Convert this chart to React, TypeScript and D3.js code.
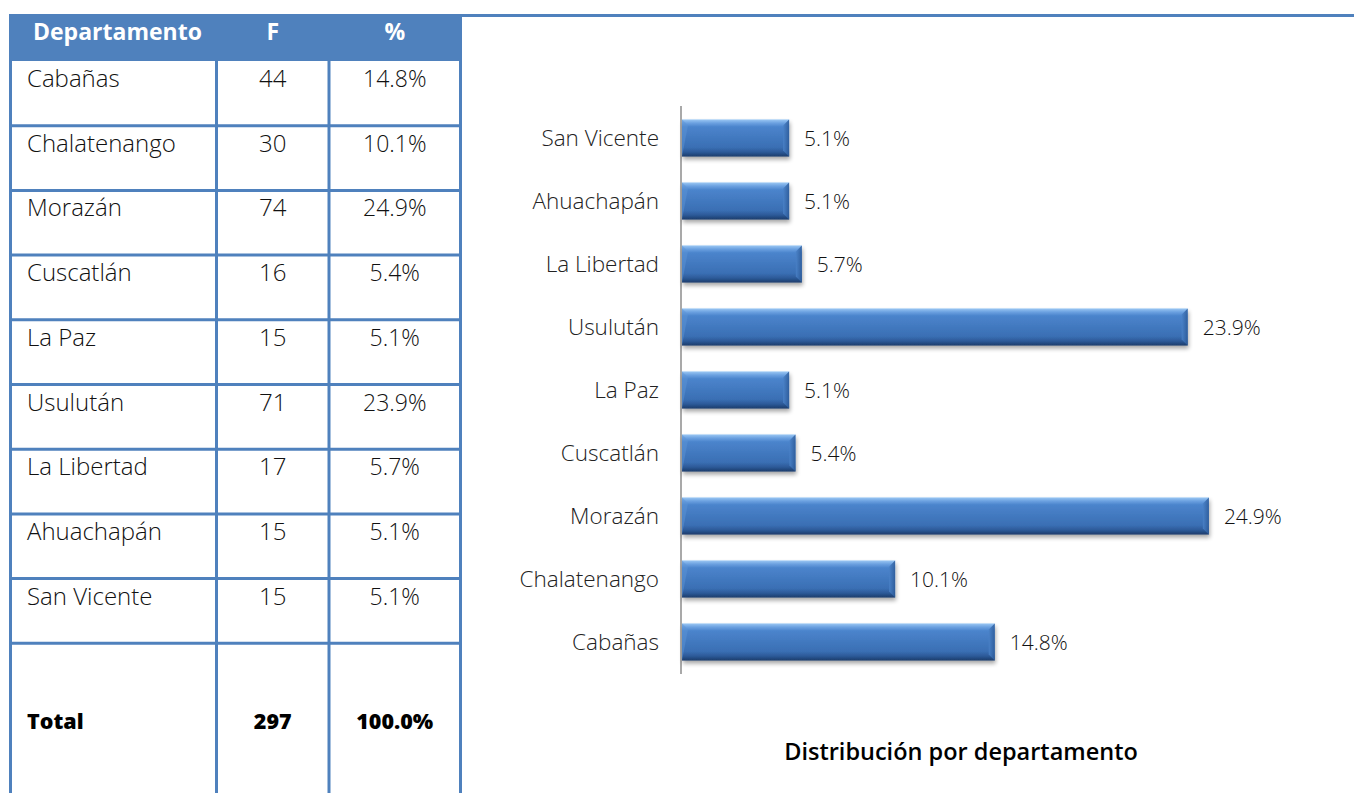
import React from "react";
import * as d3 from "d3";

const departamentos = [
	"Cabañas",
	"Chalatenango",
	"Morazán",
	"Cuscatlán",
	"La Paz",
	"Usulután",
	"La Libertad",
	"Ahuachapán",
	"San Vicente",
];
const frecuencias = [44, 30, 74, 16, 15, 71, 17, 15, 15];
const porcentajes = [14.8, 10.1, 24.9, 5.4, 5.1, 23.9, 5.7, 5.1, 5.1];
const encabezados = ["Departamento", "F", "%"];
const totalFila = ["Total", "297", "100.0%"];
const tituloGrafico = "Distribución por departamento";

const W = 1354;
const H = 793;
const BLUE = "#4f81bd";
const FONT = "'Open Sans', 'Noto Sans', sans-serif";

const fmt = (v: number) => `${v.toFixed(1)}%`;

export default function App() {
	// table geometry
	const colX = [10.5, 216.5, 329, 460.5];
	const headTop = 14;
	const headBottom = 61;
	const rowH = 64.7;
	const rowTops = departamentos.map((_, i) => headBottom + i * rowH);
	const totalTop = headBottom + departamentos.length * rowH;

	// chart scales
	const x = d3.scaleLinear().domain([0, 30]).range([681, 1317]);
	const y = d3
		.scaleBand<string>()
		.domain([...departamentos].reverse())
		.range([106.5, 673.5])
		.paddingInner(0.41)
		.paddingOuter(0.205);
	const bh = y.bandwidth();
	const bev = 6;

	const colCenter = (c: number) => (colX[c] + colX[c + 1]) / 2;

	return (
		<svg
			width={W}
			height={H}
			style={{ position: "absolute", left: 0, top: 0, background: "#fff" }}
		>
			<defs>
				<linearGradient id="barGrad" x1="0" y1="0" x2="0" y2="1">
					<stop offset="0" stopColor="#9cc8f4" />
					<stop offset="0.1" stopColor="#6aa0e0" />
					<stop offset="0.2" stopColor="#4b84cc" />
					<stop offset="0.75" stopColor="#3a6fb4" />
					<stop offset="0.88" stopColor="#2c5a98" />
					<stop offset="1" stopColor="#1c3c6a" />
				</linearGradient>
				<linearGradient id="endGrad" x1="0" y1="0" x2="1" y2="0">
					<stop offset="0" stopColor="#4a82c8" />
					<stop offset="1" stopColor="#2c5a98" />
				</linearGradient>
				<filter id="shadow" x="-5%" y="-20%" width="110%" height="160%">
					<feGaussianBlur in="SourceAlpha" stdDeviation="2" />
					<feOffset dx="1" dy="3" result="b" />
					<feComponentTransfer>
						<feFuncA type="linear" slope="0.35" />
					</feComponentTransfer>
					<feMerge>
						<feMergeNode />
						<feMergeNode in="SourceGraphic" />
					</feMerge>
				</filter>
			</defs>

			{/* top rule */}
			<line x1={9} x2={W} y1={15.5} y2={15.5} stroke={BLUE} strokeWidth={3} />

			{/* table header */}
			<rect x={9} y={headTop} width={colX[3] - 9 + 1.5} height={headBottom - headTop} fill={BLUE} />
			{encabezados.map((h, c) => (
				<text
					key={h}
					x={c === 0 ? 33 : colCenter(c)}
					y={40}
					textAnchor={c === 0 ? "start" : "middle"}
					fill="#fff"
					fontFamily={FONT}
					fontWeight={700}
					fontSize={23}
				>
					{h}
				</text>
			))}

			{/* table rows */}
			{departamentos.map((d, i) => (
				<g key={d} fontFamily={FONT} fontWeight={300} fill="#111">
					<text x={27} y={rowTops[i] + 26} fontSize={24}>
						{d}
					</text>
					<text x={colCenter(1)} y={rowTops[i] + 26} textAnchor="middle" fontSize={24}>
						{frecuencias[i]}
					</text>
					<text x={colCenter(2)} y={rowTops[i] + 26} textAnchor="middle" fontSize={23}>
						{fmt(porcentajes[i])}
					</text>
				</g>
			))}

			{/* total row */}
			{totalFila.map((t, c) => (
				<text
					key={t}
					x={c === 0 ? 27 : colCenter(c)}
					y={729}
					textAnchor={c === 0 ? "start" : "middle"}
					fontFamily={FONT}
					fontWeight={800}
					fontSize={21.5}
					fill="#000"
				>
					{t}
				</text>
			))}

			{/* table grid */}
			{rowTops.slice(1).concat([totalTop]).map((yy, i) => (
				<line key={i} x1={9} x2={colX[3] + 1.5} y1={yy} y2={yy} stroke={BLUE} strokeWidth={3} />
			))}
			{colX.map((cx, i) => (
				<line key={i} x1={cx} x2={cx} y1={headBottom} y2={H} stroke={BLUE} strokeWidth={3} />
			))}

			{/* chart axis */}
			<line x1={x(0)} x2={x(0)} y1={106} y2={674} stroke="#8c8c8c" strokeWidth={1.5} />

			{/* bars */}
			{departamentos.map((d, i) => {
				const x0 = x(0) + 1;
				const x1 = x(porcentajes[i]);
				const y0 = y(d)!;
				return (
					<g key={d}>
						<g filter="url(#shadow)">
							<rect x={x0} y={y0} width={x1 - x0} height={bh} fill="url(#barGrad)" />
						</g>
						<polygon
							points={`${x1 - bev},${y0 + bev} ${x1},${y0} ${x1},${y0 + bh} ${x1 - bev},${y0 + bh - bev}`}
							fill="url(#endGrad)"
							opacity={0.85}
						/>
						<polygon
							points={`${x0},${y0} ${x0 + bev},${y0 + bev} ${x0},${y0 + bh}`}
							fill="#5b93d6"
							opacity={0.5}
						/>
						<text
							x={x1 + 15}
							y={y0 + bh / 2 + 7.5}
							fontFamily={FONT}
							fontWeight={300}
							fontSize={21}
							fill="#111"
						>
							{fmt(porcentajes[i])}
						</text>
						<text
							x={659}
							y={y0 + bh / 2 + 8}
							textAnchor="end"
							fontFamily={FONT}
							fontWeight={300}
							fontSize={22.5}
							fill="#222"
						>
							{d}
						</text>
					</g>
				);
			})}

			{/* title */}
			<text
				x={961}
				y={760}
				textAnchor="middle"
				fontFamily={FONT}
				fontWeight={600}
				fontSize={23.5}
				fill="#000"
			>
				{tituloGrafico}
			</text>
		</svg>
	);
}
